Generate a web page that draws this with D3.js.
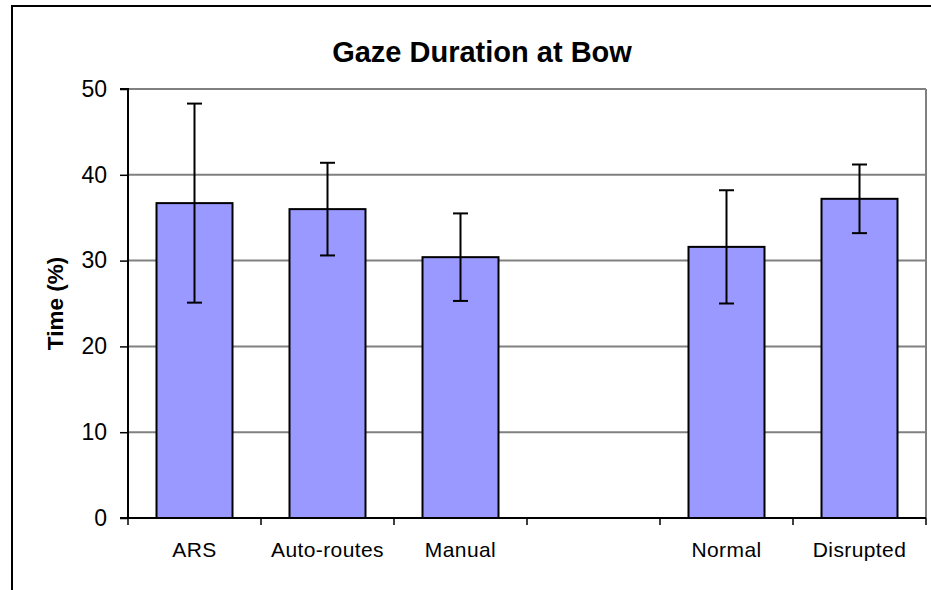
<!DOCTYPE html>
<html><head><meta charset="utf-8">
<script src="https://cdn.jsdelivr.net/npm/d3@7"></script>
<style>
html,body{margin:0;padding:0;background:#fff;}
text{font-family:"Liberation Sans",Arial,sans-serif;}
</style></head>
<body>
<svg id="chart" width="931" height="590"></svg>
<script>
const categories = ["ARS", "Auto-routes", "Manual", "", "Normal", "Disrupted"];
const means =      [36.7, 36.0, 30.4, null, 31.6, 37.2];
const errors =     [11.6, 5.4, 5.1, null, 6.6, 4.0];
const yTicks =     [0, 10, 20, 30, 40, 50];
const title = "Gaze Duration at Bow";
const yTitle = "Time (%)";

const svg = d3.select("#chart");
const W = 931, H = 590;
const plot = {left: 128, right: 926, top: 89, bottom: 518};

svg.append("rect").attr("width", W).attr("height", H).attr("fill", "#fff");
// outer chart border (left and top visible)
svg.append("path").attr("d", `M12,${H+5} L12,6 L${W+5},6`).attr("fill","none").attr("stroke","#000").attr("stroke-width",2);

const x = d3.scaleBand().domain(d3.range(categories.length)).range([plot.left, plot.right]).paddingInner(0).paddingOuter(0);
const y = d3.scaleLinear().domain([0, 50]).range([plot.bottom, plot.top]);

// gridlines
svg.append("g").selectAll("line").data(yTicks.filter(t => t > 0)).join("line")
  .attr("x1", plot.left).attr("x2", plot.right)
  .attr("y1", d => y(d)).attr("y2", d => y(d))
  .attr("stroke", "#808080").attr("stroke-width", 2);
// right border
svg.append("line").attr("x1", plot.right).attr("x2", plot.right).attr("y1", plot.top).attr("y2", plot.bottom)
  .attr("stroke", "#808080").attr("stroke-width", 2);

// bars
const bw = x.bandwidth() / 1.75;
const data = categories.map((c, i) => ({c, i, m: means[i], e: errors[i]})).filter(d => d.m != null);
svg.append("g").selectAll("rect").data(data).join("rect")
  .attr("x", d => x(d.i) + (x.bandwidth() - bw) / 2)
  .attr("width", bw)
  .attr("y", d => y(d.m))
  .attr("height", d => y(0) - y(d.m))
  .attr("fill", "#9999FF").attr("stroke", "#000").attr("stroke-width", 2);

// error bars
const eg = svg.append("g").attr("stroke", "#000").attr("stroke-width", 2);
data.forEach(d => {
  const cx = x(d.i) + x.bandwidth() / 2;
  eg.append("line").attr("x1", cx).attr("x2", cx).attr("y1", y(d.m + d.e)).attr("y2", y(d.m - d.e));
  eg.append("line").attr("x1", cx - 7.5).attr("x2", cx + 7.5).attr("y1", y(d.m + d.e)).attr("y2", y(d.m + d.e));
  eg.append("line").attr("x1", cx - 7.5).attr("x2", cx + 7.5).attr("y1", y(d.m - d.e)).attr("y2", y(d.m - d.e));
});

// y axis
const yAxis = d3.axisLeft(y).tickValues(yTicks).tickSize(8).tickPadding(13);
const yg = svg.append("g").attr("transform", `translate(${plot.left},0)`).call(yAxis);
yg.select(".domain").attr("stroke", "#000").attr("stroke-width", 2).attr("d", `M-8,${plot.top}H0V${plot.bottom}H-8`);
yg.selectAll(".tick line").attr("stroke", "#000").attr("stroke-width", 1.5);
yg.selectAll(".tick text").attr("font-size", 23).attr("fill", "#000").attr("font-family", "Liberation Sans, Arial, sans-serif");

// x axis
const xAxis = d3.axisBottom(x).tickFormat(i => categories[i]).tickSize(0).tickPadding(24);
const xg = svg.append("g").attr("transform", `translate(0,${plot.bottom})`).call(xAxis);
xg.select(".domain").attr("stroke", "#000").attr("stroke-width", 2).attr("d", `M${plot.left},0H${plot.right}`);
xg.selectAll(".tick text").attr("font-size", 21).attr("letter-spacing", 0.4).attr("fill", "#000").attr("font-family", "Liberation Sans, Arial, sans-serif");
// x tick marks at category boundaries
svg.append("g").selectAll("line").data(d3.range(categories.length + 1)).join("line")
  .attr("x1", i => i < categories.length ? x(i) : plot.right)
  .attr("x2", i => i < categories.length ? x(i) : plot.right)
  .attr("y1", plot.bottom).attr("y2", plot.bottom + 7)
  .attr("stroke", "#000").attr("stroke-width", 1.5);

// title
svg.append("text").attr("x", 482).attr("y", 62).attr("text-anchor", "middle")
  .attr("font-size", 29).attr("font-weight", "bold").attr("fill", "#000").text(title);
// y title
svg.append("text").attr("transform", `translate(63,${(plot.top + plot.bottom) / 2}) rotate(-90)`)
  .attr("text-anchor", "middle").attr("font-size", 22.5).attr("font-weight", "bold").attr("fill", "#000").text(yTitle);
</script>
</body></html>
